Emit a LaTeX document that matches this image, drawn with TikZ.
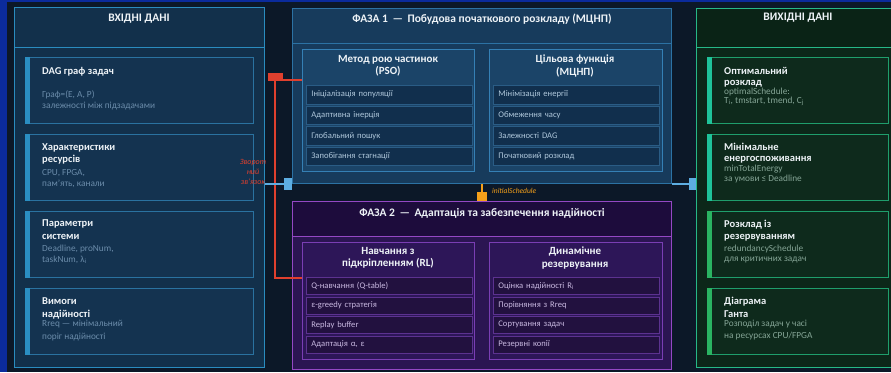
\documentclass[tikz,border=0pt]{standalone}
\usepackage{fontspec}
\setmainfont{Carlito}
\usetikzlibrary{arrows.meta}
\definecolor{stripC}{HTML}{0B2B9C}
\definecolor{bgC}{HTML}{0C1828}
\definecolor{inF}{HTML}{12304B}
\definecolor{inB}{HTML}{2A8CBF}
\definecolor{inCF}{HTML}{143350}
\definecolor{inCB}{HTML}{2A72A0}
\definecolor{inA}{HTML}{2A8EC2}
\definecolor{p1F}{HTML}{173B5C}
\definecolor{p1B}{HTML}{2C72A4}
\definecolor{p1IF}{HTML}{1B4468}
\definecolor{p1IB}{HTML}{3580B5}
\definecolor{r1F}{HTML}{112F4D}
\definecolor{r1B}{HTML}{2A5C85}
\definecolor{r1T}{HTML}{B0C8DC}
\definecolor{p2F}{HTML}{2B1552}
\definecolor{p2H}{HTML}{1D0C3C}
\definecolor{p2B}{HTML}{9448C4}
\definecolor{p2IF}{HTML}{2D1658}
\definecolor{p2IB}{HTML}{7A3EB4}
\definecolor{r2F}{HTML}{22113F}
\definecolor{r2B}{HTML}{5C3290}
\definecolor{r2T}{HTML}{C8B8E0}
\definecolor{outF}{HTML}{0C2719}
\definecolor{outH}{HTML}{0A2316}
\definecolor{outB}{HTML}{26B888}
\definecolor{oCF}{HTML}{0E2A1C}
\definecolor{oCB}{HTML}{1F9E6C}
\definecolor{oA1}{HTML}{1FC39A}
\definecolor{oA2}{HTML}{2AB462}
\definecolor{inD}{HTML}{6B8CAA}
\definecolor{outD}{HTML}{85A596}
\definecolor{titleT}{HTML}{EEF3F7}
\definecolor{redC}{HTML}{E0402E}
\definecolor{blueC}{HTML}{5DADE2}
\definecolor{orC}{HTML}{F5A01A}
\begin{document}
\begin{tikzpicture}[x=1pt,y=-1pt,
  panel/.style={line width=1.3pt, inner sep=0pt, anchor=north west},
  hdr/.style={line width=1.2pt, inner sep=0pt, anchor=north west},
  card/.style={line width=1pt, inner sep=0pt, anchor=north west, minimum height=66pt},
  ibox/.style={line width=1pt, inner sep=0pt, anchor=north west},
  ptitle/.style={text=titleT, font=\fontsize{11.5}{13}\selectfont\bfseries, inner sep=0pt},
  ititle/.style={text=titleT, font=\fontsize{11}{12.5}\selectfont\bfseries, align=center, inner sep=0pt},
  ctitle/.style={text=titleT, font=\fontsize{10.5}{12}\selectfont\bfseries, anchor=base west, inner sep=0pt},
  cdet/.style={font=\fontsize{9.3}{11}\selectfont, anchor=base west, inner sep=0pt},
  row/.style={line width=0.8pt, anchor=north west, inner xsep=5pt, inner ysep=0pt, text width=156pt, align=left, font=\fontsize{8.6}{10}\selectfont},
  row1/.style={row, draw=r1B, fill=r1F, text=r1T, minimum height=18.5pt},
  row2/.style={row, draw=r2B, fill=r2F, text=r2T, minimum height=17pt},
  conn/.style={line width=2pt},
]
\useasboundingbox (0,0) rectangle (891,372);
\fill[stripC] (0,0) rectangle (891,372);
\fill[bgC] (7,2) rectangle (891,372);

% ---------- input panel ----------
\node[panel, draw=inB, fill=inF, minimum width=250pt, minimum height=360pt] (inp) at (14,7) {};
\node[hdr, draw=inB, minimum width=250pt, minimum height=40pt] (inpH) at (14,7) {};
\node[ptitle] (inpT) at (139,19) {ВХІДНІ ДАНІ};
\foreach \i/\y in {1/57,2/134,3/211,4/288}{
  \node[card, draw=inCB, fill=inCF, minimum width=228pt] (ic\i) at (25,\y) {};
  \fill[inA] (ic\i.north west) rectangle ([xshift=5pt]ic\i.south west);
}
\node[ctitle] (ic1a) at (42,74) {DAG граф задач};
\node[cdet, text=inD] (ic1b) at (42,97) {Граф=(E, A, P)};
\node[cdet, text=inD] (ic1c) at (42,108) {залежності між підзадачами};
\node[ctitle] (ic2a) at (42,150) {Характеристики};
\node[ctitle] (ic2b) at (42,162) {ресурсів};
\node[cdet, text=inD] (ic2c) at (42,175) {CPU, FPGA,};
\node[cdet, text=inD] (ic2d) at (42,186) {пам'ять, канали};
\node[ctitle] (ic3a) at (42,226) {Параметри};
\node[ctitle] (ic3b) at (42,239) {системи};
\node[cdet, text=inD] (ic3c) at (42,251) {Deadline, proNum,};
\node[cdet, text=inD] (ic3d) at (42,262) {taskNum, λ\textsubscript{i}};
\node[ctitle] (ic4a) at (42,304) {Вимоги};
\node[ctitle] (ic4b) at (42,317) {надійності};
\node[cdet, text=inD] (ic4c) at (42,326) {Rreq — мінімальний};
\node[cdet, text=inD] (ic4d) at (42,339) {поріг надійності};

% ---------- phase 1 ----------
\node[panel, draw=p1B, fill=p1F, minimum width=379pt, minimum height=175pt] (ph1) at (292,8) {};
\node[hdr, draw=p1B, minimum width=379pt, minimum height=35pt] (ph1H) at (292,8) {};
\node[ptitle] (ph1T) at (482,19) {ФАЗА 1 \,—\, Побудова початкового розкладу (МЦНП)};
\node[ibox, draw=p1IB, fill=p1IF, minimum width=172pt, minimum height=122pt] (pso) at (302,49) {};
\node[ibox, draw=p1IB, fill=p1IF, minimum width=173pt, minimum height=122pt] (obj) at (489,49) {};
\node[ititle] (psoT) at (388,66) {Метод рою частинок\\(PSO)};
\node[ititle] (objT) at (575,66) {Цільова функція\\(МЦНП)};
\foreach \t [count=\k] in {Ініціалізація популяції, Адаптивна інерція, Глобальний пошук, Запобігання стагнації}
  \node[row1] (psoR\k) at (306,{85+(\k-1)*20.6}) {\t};
\foreach \t [count=\k] in {Мінімізація енергії, Обмеження часу, Залежності DAG, Початковий розклад}
  \node[row1] (objR\k) at (493,{85+(\k-1)*20.6}) {\t};

% ---------- phase 2 ----------
\node[panel, draw=p2B, fill=p2F, minimum width=379pt, minimum height=168pt] (ph2) at (292,201) {};
\node[hdr, draw=p2B, fill=p2H, minimum width=379pt, minimum height=35pt] (ph2H) at (292,201) {};
\node[ptitle] (ph2T) at (482,213) {ФАЗА 2 \,—\, Адаптація та забезпечення надійності};
\node[ibox, draw=p2IB, fill=p2IF, minimum width=172pt, minimum height=117pt] (rl) at (302,242) {};
\node[ibox, draw=p2IB, fill=p2IF, minimum width=173pt, minimum height=117pt] (res) at (489,242) {};
\node[ititle] (rlT) at (388,258) {Навчання з\\підкріпленням (RL)};
\node[ititle] (resT) at (575,258) {Динамічне\\резервування};
\foreach \t [count=\k] in {Q-навчання (Q-table), ε-greedy стратегія, Replay buffer, {Адаптація α, ε}}
  \node[row2] (rlR\k) at (306,{277+(\k-1)*19.5}) {\t};
\foreach \t [count=\k] in {Оцінка надійності R\textsubscript{i}, Порівняння з Rreq, Сортування задач, Резервні копії}
  \node[row2] (resR\k) at (493,{277+(\k-1)*19.5}) {\t};

% ---------- output panel ----------
\node[panel, draw=outB, fill=outF, minimum width=203pt, minimum height=358.5pt] (out) at (696,8) {};
\node[hdr, draw=outB, fill=outH, minimum width=203pt, minimum height=39pt] (outH) at (696,8) {};
\node[ptitle] (outT) at (798,18) {ВИХІДНІ ДАНІ};
\foreach \i/\y/\c in {1/57/oA1,2/134/oA1,3/211/oA2,4/288/oA2}{
  \node[card, draw=oCB, fill=oCF, minimum width=181pt] (oc\i) at (707,\y) {};
  \fill[\c] (oc\i.north west) rectangle ([xshift=5pt]oc\i.south west);
}
\node[ctitle] (oc1a) at (724,74) {Оптимальний};
\node[ctitle] (oc1b) at (724,85) {розклад};
\node[cdet, text=outD] (oc1c) at (724,94) {optimalSchedule:};
\node[cdet, text=outD] (oc1d) at (724,103) {T\textsubscript{i}, tmstart, tmend, C\textsubscript{j}};
\node[ctitle] (oc2a) at (724,150) {Мінімальне};
\node[ctitle] (oc2b) at (724,161) {енергоспоживання};
\node[cdet, text=outD] (oc2c) at (724,171) {minTotalEnergy};
\node[cdet, text=outD] (oc2d) at (724,181) {за умови ≤ Deadline};
\node[ctitle] (oc3a) at (724,227) {Розклад із};
\node[ctitle] (oc3b) at (724,239) {резервуванням};
\node[cdet, text=outD] (oc3c) at (724,251) {redundancySchedule};
\node[cdet, text=outD] (oc3d) at (724,261) {для критичних задач};
\node[ctitle] (oc4a) at (724,304) {Діаграма};
\node[ctitle] (oc4b) at (724,317) {Ганта};
\node[cdet, text=outD] (oc4c) at (724,326) {Розподіл задач у часі};
\node[cdet, text=outD] (oc4d) at (724,338) {на ресурсах CPU/FPGA};

% ---------- connectors ----------
\coordinate (fbS) at ([yshift=-36pt]rl.north west);
\coordinate (fbE) at ([yshift=-31pt]pso.north west);
\draw[conn, redC] (fbS) -- ++(-27,0) |- (fbE);
\node[fill=redC, inner sep=0pt, minimum width=15pt, minimum height=8pt] (fbMark) at (275.5,77) {};
\node[text=redC, font=\fontsize{8}{10}\selectfont\itshape, align=center, inner sep=0pt] (fbL) at (253,172) {Зворот\\ний\\зв'язок};

\draw[conn, blueC, -{Square[length=8pt,width=12pt]}] (inp.east |- ph1.south) -- (ph1.south west);
\draw[conn, blueC, -{Square[length=7pt,width=12pt]}] (ph1.south east) -- (out.west |- ph1.south);
\draw[conn, orC, -{Square[length=9pt,width=10pt]}] (ph1.south) -- (ph2.north);
\node[text=orC, font=\fontsize{7.5}{9}\selectfont\itshape, anchor=west, inner sep=0pt] (isL) at (492,191) {initialSchedule};
\end{tikzpicture}
\end{document}
